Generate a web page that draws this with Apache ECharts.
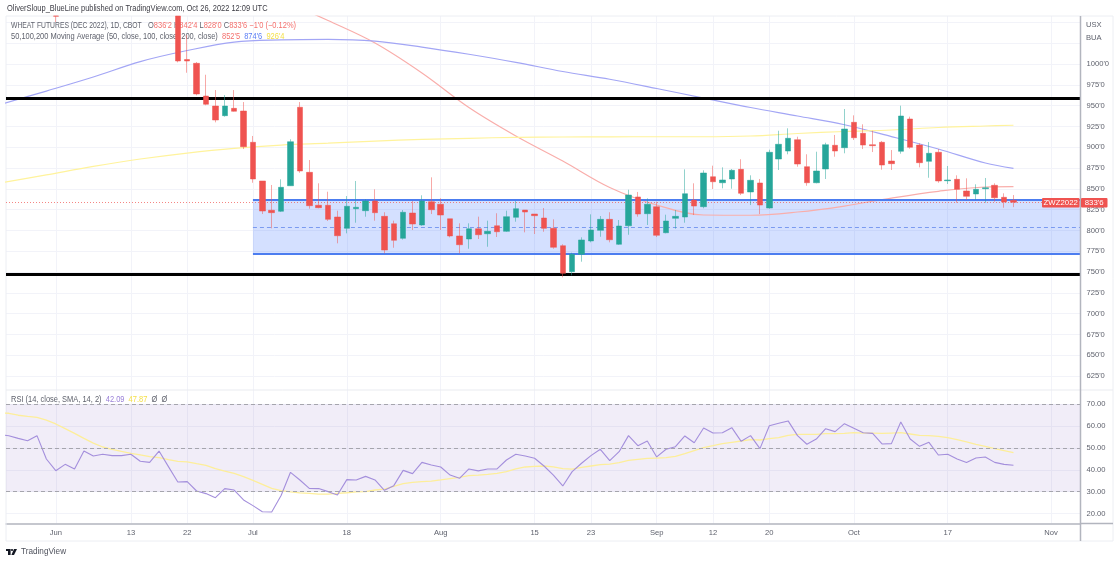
<!DOCTYPE html>
<html>
<head>
<meta charset="utf-8">
<title>Wheat futures</title>
<script src="https://cdn.jsdelivr.net/npm/echarts@6/dist/echarts.min.js"></script>
<style>
html, body { margin: 0; padding: 0; background: #fff; }
#chart { width: 1120px; height: 563px; }
</style>
</head>
<body>
<div id="chart"></div>
<script>
// trading sessions, the last few are the empty space on the right of the chart
const sessions = [
  '05-23','05-24','05-25','05-26','05-27','05-31',
  '06-01','06-02','06-03','06-06','06-07','06-08','06-09','06-10','06-13','06-14','06-15','06-16','06-17',
  '06-21','06-22','06-23','06-24','06-27','06-28','06-29','06-30',
  '07-01','07-05','07-06','07-07','07-08','07-11','07-12','07-13','07-14','07-15','07-18','07-19','07-20','07-21','07-22','07-25','07-26','07-27','07-28','07-29',
  '08-01','08-02','08-03','08-04','08-05','08-08','08-09','08-10','08-11','08-12','08-15','08-16','08-17','08-18','08-19','08-22','08-23','08-24','08-25','08-26','08-29','08-30','08-31',
  '09-01','09-02','09-06','09-07','09-08','09-09','09-12','09-13','09-14','09-15','09-16','09-19','09-20','09-21','09-22','09-23','09-26','09-27','09-28','09-29','09-30',
  '10-03','10-04','10-05','10-06','10-07','10-10','10-11','10-12','10-13','10-14','10-17','10-18','10-19','10-20','10-21','10-24','10-25','10-26','10-27','10-28','10-31',
  '11-01','11-02','11-03','11-04','11-07'
]

const xTickDates = ['06-01','06-13','06-22','07-01','07-18','08-01','08-15','08-23','09-01','09-12','09-20','10-03','10-17','11-01']
const xTickLabels = ['Jun','13','22','Jul','18','Aug','15','23','Sep','12','20','Oct','17','Nov']

const priceGridLines = [625,650,675,700,725,750,775,800,825,850,875,900,925,950,975,1000,1025,1050]
const priceLabels = [625,650,675,700,725,750,775,800,825,850,875,900,925,950,975,1000]
const rsiLabels = [20,30,40,50,60,70]

// candles from 06-21 to 10-26, the first one runs past the top of the pane so it stops at the pane's top value
const candleStart = '06-21'
const opens = [1057.7,1005.4,1000.8,961.5,949.5,937.9,946.7,943.5,905.9,859.4,824.2,823,853.7,948,869.8,830.2,830.2,816.1,802.5,826.1,823.7,835.3,816.9,808,790.5,820.9,806.5,834.5,831.4,814,793.3,789.7,802,796,805.6,798.9,815.7,824.5,819.7,814.9,802.5,781.6,750.4,771.3,787.3,800.1,813.3,783.3,805.6,840.2,820.1,828.5,797.2,814.5,816.1,836.5,828.5,864.5,857.3,861.8,873.4,846.2,857,826.9,885.8,895.4,909,876.6,857.3,873.8,902.3,899.4,929.9,916.7,903,905.9,883.4,895.1,933.9,902.6,883,893.9,859.7,861.4,847.4,843.8,850.1,854.2,839.8,836.25]
const closes = [1003.6,1003.6,964,951.6,932.7,949.5,943.2,900.6,861.8,823.3,821.3,851.8,906.6,871.4,829.7,827.3,813.3,793.6,829,827.8,835.3,821.3,776.4,788.1,821.8,807.7,835.3,824.9,818.5,793.3,782.8,802,794.8,798.9,798.4,816.5,826.1,822.1,817.7,802.5,779.7,748.4,771.3,788.5,800.5,813.3,788.8,805.3,842.5,819.7,831.4,794.1,811.3,816.9,844.1,829.3,869,858.5,860.6,872.2,844.6,860.2,830.5,893.9,903.5,910.7,879.8,857.3,871.4,903,895.4,921.9,911.4,902.6,901.8,878.6,880.2,937.5,899.9,881.4,892.7,859.4,860.6,849.4,841,849.4,851.3,839.3,834.1,833.75]
const lows = [1002,989.5,962.4,950.4,929.9,936.7,942.7,897.8,857.3,819.7,802.5,822.1,853.4,869.3,826.1,826.6,811.3,784.5,796.5,809.3,816.5,811.7,772.5,779.2,789,800.5,805.6,819.7,800.5,791.7,772.5,778,789.7,780.4,792.1,798.1,810.5,797.7,795.7,798.4,778,743.6,746,762.4,785.7,792.4,785.7,782.5,794.8,816.5,806.5,792.1,796.5,802,809.3,818.5,826.6,849.8,850.6,850.1,842.5,830.5,819.7,826.1,872.6,891.5,876.6,853.7,856.6,861.8,888.6,892.7,908.7,897.8,894.2,873,872.6,892.2,898.2,875.8,863.3,857.3,855.8,833.3,836.5,836.5,833.3,834.5,827.3,828]
const highs = [1057.7,1034.8,1002.4,987.1,968.7,962.7,968.7,954.3,913.5,859.4,854.6,861.4,909.5,954.3,884.6,856.6,846.5,823.7,841.3,859.4,837.7,849.4,821.8,811.7,824.5,835.3,842.2,863.8,838.6,814,808.5,808.5,816.5,811.7,820.6,823.7,835.3,824.5,819.7,826.9,813.3,783.3,773.2,791.7,819.3,817.3,821.8,812.5,848.9,846.2,838.6,834.5,818.9,824.5,873.4,856.6,872.2,877.8,875.8,873.8,885.5,866.2,861.8,897,919.8,922.7,912.6,891.5,894.6,905.4,914.7,945.9,938.3,927.5,919.8,907.5,896.6,949.9,936.7,904.7,906.2,897.8,877.4,866.2,862.6,855.4,863,856.6,844.6,842.5]

// the only earlier candle that shows: just its lower wick hangs in from the top
const offTopDate = '06-01'
const offTopCandle = [1057.7,1057.5,1050.5,1057.7]

// moving averages, read every few sessions
const maDates = ['05-23','05-31','06-07','06-14','06-22','06-29','07-07','07-14','07-21','07-28','08-04','08-11','08-18','08-25','09-01','09-09','09-16','09-23','09-30','10-07','10-14','10-21','10-26']
const ma100 = [951.1,967.5,984.4,1002.9,1016.2,1026.4,1029.1,1029.7,1027.6,1020.4,1011.7,1002,991,981.7,970.6,959.1,947.7,937.5,927,912.8,897.8,881,874.6]
const ma200 = [856.9,866.8,876.9,885.8,893,898.7,902.6,904.8,907.4,909.3,910.7,911.9,912.3,912.5,912.6,912.6,913.5,916.5,918.9,920.7,923.7,925.5,926.4]
const ma50Dates = ['07-07','07-14','07-21','07-28','08-04','08-11','08-18','08-25','09-01','09-09','09-16','09-23','09-30','10-07','10-14','10-21','10-26']
const ma50 = [1077.5,1052.2,1025.2,989.2,947.7,913.5,883.4,851.6,830.5,818.5,818.2,822.1,829.3,838.9,847,852.2,852.6]

// rsi values start at the first session
const rsi = [56.25,55.6,54.4,53.35,55.65,44.95,39.6,42.5,40.4,48.6,46.3,47.1,46.5,46.5,47.1,43.9,43.4,48.6,41.45,34.4,34.6,30.3,29.1,27.25,31.4,30.75,26.2,23.6,20.8,20.7,28.2,38.85,35.35,31.5,31.4,30,28.45,35.5,35.35,37,35.35,30.6,32.75,39.75,38.25,43.4,42.2,41.3,37.6,36.1,40.4,39.5,40.4,40.4,44.5,47.1,46.3,45.3,41.75,37.6,32.6,39.15,43,46.5,49.4,44.2,48.3,55.65,51.05,53.2,45.9,49.4,50.6,55.5,52.4,59.15,56.85,57,59.3,53.05,55.65,49.7,60.2,61.3,62.4,55.65,51.7,54.1,58.85,57.5,61.15,59,57,56.7,51.85,52,61.9,54.1,50.75,52.6,46.8,47.1,45,43.4,45.4,45.9,43.4,42.5,42.09]
const rsiMa = [66,65.9,65,64.5,64.05,62.8,61,58.85,56.7,54.4,52.25,50.45,49.4,48.45,47.55,46.8,46,45.6,44.65,43.9,43.6,42.8,42.05,40.5,39.45,38.4,36.9,35.2,33.35,31.5,30.45,29.85,29.4,29.25,28.9,28.9,29.25,29.5,29.85,30,30.75,31.2,32.45,33.65,34.25,34.6,34.85,35.35,35.95,36.55,37.3,37.6,37.95,38.4,39.15,40.4,41.3,41.6,41.75,41.3,40.5,40.35,41.15,41.75,42.35,42.65,43.25,44.35,44.8,45.25,45.4,45.55,46.15,47.4,48.8,50.15,51.05,52,52.6,53.2,53.8,53.65,54.25,54.7,55.8,56.25,56.25,56.25,56.55,56.55,56.7,57,56.85,56.85,56.7,56.85,57,56.4,55.8,55.65,55.35,54.7,53.8,52.75,51.65,50.75,49.7,48.8,47.87]

// drawn levels
const upperSupport = 958.8
const lowerSupport = 747.2
const zoneStart = '07-01'
const zoneTop = 836.7
const zoneMiddle = 804
const zoneBottom = 771.6
const lastClose = 833.75
const rsiBands = [70,50,30]

const red = '#ef5350'
const green = '#26a69a'
const gridColor = '#f2f3f9'
const textFont = '"Liberation Sans", sans-serif'
const legendFont = '8.6px ' + textFont
const axisFontSize = 7.6
const axisGrey = '#5f626d'

const xMin = 0.7
const xMax = 115.14

function idx(date) {
  return sessions.indexOf(date)
}

function createCandles() {
  let first = idx(candleStart)
  let data = [[idx(offTopDate), ...offTopCandle]]
  for (let i = 0; i < opens.length; i++) {
    data.push([first + i, opens[i], closes[i], lows[i], highs[i]])
  }
  return data
}

function xAxisFor(gridIndex, withLabels) {
  let ticks = xTickDates.map(idx)
  return {
    type: 'value',
    gridIndex: gridIndex,
    min: xMin,
    max: xMax,
    axisLine: { show: withLabels, onZero: false, lineStyle: { color: '#b2b5be', width: 1.5 } },
    axisTick: { show: false, customValues: ticks },
    splitLine: { show: true, lineStyle: { color: gridColor, width: 1 } },
    axisLabel: {
      show: withLabels,
      customValues: ticks,
      margin: 5,
      hideOverlap: false,
      showMinLabel: true,
      showMaxLabel: true,
      fontFamily: textFont,
      fontSize: axisFontSize,
      color: axisGrey,
      formatter: v => xTickLabels[ticks.indexOf(v)]
    }
  }
}

// horizontal level across the pane, from xFrom to the right edge
function level(v, xFrom, lineStyle) {
  return [
    { coord: [xFrom, v], lineStyle: lineStyle },
    { coord: [xMax, v], lineStyle: lineStyle }
  ]
}

// the original font is narrower than anything installed, so the text is squeezed a little
function legendText(x, y, text, rich, z, squeeze = 0.87) {
  let styles = {}
  for (let key in rich) {
    styles[key] = { fill: rich[key], font: legendFont }
  }
  return {
    type: 'text', silent: true, z: z, x: x, y: y, scaleX: squeeze,
    style: { x: 0, y: 0, verticalAlign: 'middle', text: text, font: legendFont, rich: styles }
  }
}

const chart = echarts.init(document.getElementById('chart'))

const blackLine = { color: '#000', width: 3, type: 'solid' }
const zoneLine = { color: '#4c7df0', width: 2, type: 'solid' }
const zoneMidLine = { color: '#7b9bf0', width: 1, type: [4, 3] }
const priceLine = { color: 'rgba(239,83,80,0.7)', width: 1, type: [1, 2] }
const bandLine = { color: '#a5a5ad', width: 1, type: [4, 3] }

const option = {
  animation: false,
  backgroundColor: '#fff',
  grid: [
    { left: 6, top: 16, width: 1074.5, height: 374, show: false },
    { left: 6, top: 390, width: 1074.5, height: 133.5, show: false }
  ],
  xAxis: [xAxisFor(0, false), xAxisFor(1, true)],
  yAxis: [
    {
      type: 'value',
      gridIndex: 0,
      position: 'right',
      min: 608.2,
      max: 1057.7,
      axisLine: { show: false },
      axisTick: { show: false, customValues: priceGridLines },
      splitLine: { show: true, lineStyle: { color: gridColor } },
      axisLabel: {
        customValues: priceLabels,
        margin: 6,
        fontFamily: textFont,
        fontSize: axisFontSize,
        color: axisGrey,
        formatter: v => v + "'0"
      }
    },
    {
      type: 'value',
      gridIndex: 1,
      position: 'right',
      min: 15.41,
      max: 76.56,
      axisLine: { show: false },
      axisTick: { show: false, customValues: rsiLabels },
      splitLine: { show: true, lineStyle: { color: gridColor } },
      axisLabel: {
        customValues: rsiLabels,
        margin: 6,
        fontFamily: textFont,
        fontSize: axisFontSize,
        color: axisGrey,
        formatter: v => v.toFixed(2)
      }
    }
  ],
  series: [
    {
      type: 'line',
      name: 'levels',
      xAxisIndex: 0,
      yAxisIndex: 0,
      z: 2,
      data: [],
      silent: true,
      markArea: {
        silent: true,
        itemStyle: { color: 'rgba(41,98,255,0.2)' },
        data: [[{ coord: [idx(zoneStart), zoneTop] }, { coord: [xMax, zoneBottom] }]]
      },
      markLine: {
        silent: true,
        symbol: 'none',
        label: { show: false },
        data: [
          level(upperSupport, xMin, blackLine),
          level(lowerSupport, xMin, blackLine),
          level(zoneTop, idx(zoneStart), zoneLine),
          level(zoneBottom, idx(zoneStart), zoneLine),
          level(zoneMiddle, idx(zoneStart), zoneMidLine),
          level(lastClose, xMin, priceLine)
        ]
      }
    },
    {
      type: 'line',
      name: 'MA 50',
      xAxisIndex: 0,
      yAxisIndex: 0,
      z: 3,
      symbol: 'none',
      smooth: 0.35,
      lineStyle: { color: '#f9aeab', width: 1.2 },
      data: ma50.map((v, i) => [idx(ma50Dates[i]), v])
    },
    {
      type: 'line',
      name: 'MA 100',
      xAxisIndex: 0,
      yAxisIndex: 0,
      z: 3,
      symbol: 'none',
      smooth: 0.35,
      lineStyle: { color: '#a3a6f5', width: 1.2 },
      data: ma100.map((v, i) => [idx(maDates[i]), v])
    },
    {
      type: 'line',
      name: 'MA 200',
      xAxisIndex: 0,
      yAxisIndex: 0,
      z: 3,
      symbol: 'none',
      smooth: 0.35,
      lineStyle: { color: '#fff39c', width: 1.2 },
      data: ma200.map((v, i) => [idx(maDates[i]), v])
    },
    {
      type: 'candlestick',
      name: 'ZWZ2022',
      xAxisIndex: 0,
      yAxisIndex: 0,
      z: 5,
      barWidth: 6,
      clip: true,
      itemStyle: {
        color: green,
        color0: red,
        borderColor: 'rgba(38,166,154,0.5)',
        borderColor0: 'rgba(239,83,80,0.5)',
        borderWidth: 1
      },
      data: createCandles()
    },
    {
      type: 'line',
      name: 'RSI bands',
      xAxisIndex: 1,
      yAxisIndex: 1,
      z: 2,
      data: [],
      silent: true,
      markArea: {
        silent: true,
        itemStyle: { color: 'rgba(126,87,194,0.11)' },
        data: [[{ coord: [xMin, rsiBands[0]] }, { coord: [xMax, rsiBands[2]] }]]
      },
      markLine: {
        silent: true,
        symbol: 'none',
        label: { show: false },
        data: rsiBands.map(v => level(v, xMin, bandLine))
      }
    },
    {
      type: 'line',
      name: 'RSI MA',
      xAxisIndex: 1,
      yAxisIndex: 1,
      z: 3,
      symbol: 'none',
      lineStyle: { color: '#fdee9a', width: 1.3 },
      data: rsiMa.map((v, i) => [i, v])
    },
    {
      type: 'line',
      name: 'RSI',
      xAxisIndex: 1,
      yAxisIndex: 1,
      z: 4,
      symbol: 'none',
      lineStyle: { color: '#a48fdc', width: 1.1 },
      data: rsi.map((v, i) => [i, v])
    }
  ],
  graphic: [
    // frame
    { type: 'rect', silent: true, z: 1, shape: { x: 6, y: 16, width: 1107, height: 525 }, style: { fill: 'none', stroke: '#eceef3', lineWidth: 1 } },
    { type: 'line', silent: true, z: 6, shape: { x1: 1080.5, y1: 16, x2: 1080.5, y2: 541 }, style: { stroke: '#b2b5be', lineWidth: 1.5 } },
    { type: 'line', silent: true, z: 1, shape: { x1: 6, y1: 390, x2: 1113, y2: 390 }, style: { stroke: '#e9ebf0', lineWidth: 1 } },
    { type: 'line', silent: true, z: 6, shape: { x1: 1080, y1: 523.5, x2: 1113, y2: 523.5 }, style: { stroke: '#b2b5be', lineWidth: 1.5 } },

    // header and legends
    legendText(7, 9, '{k|OliverSloup_BlueLine published on TradingView.com, Oct 26, 2022 12:09 UTC}', { k: '#3c3c44' }, 1),
    legendText(11, 26, '{g|WHEAT FUTURES (DEC 2022), 1D, CBOT}', { g: axisGrey }, 1, 0.79),
    legendText(148, 26, "{g|O}{r|836'2} {g|H}{r|842'4} {g|L}{r|828'0} {g|C}{r|833'6} {r|−1'0 (−0.12%)}", { g: axisGrey, r: '#f4706d' }, 1),
    legendText(11, 37, "{g|50,100,200 Moving Average (50, close, 100, close, 200, close)}  {r|852'5}  {b|874'6}  {y|926'4}", { g: axisGrey, r: '#f4706d', b: '#5a7df5', y: '#f5e04a' }, 1),
    legendText(11, 400, '{g|RSI (14, close, SMA, 14, 2)}  {p|42.09}  {y|47.87}  {g|Ø  Ø}', { g: axisGrey, p: '#9a80d8', y: '#f5e04a' }, 6),

    // currency and unit on the price scale
    { type: 'text', silent: true, z: 6, style: { x: 1086, y: 25, text: 'USX', font: axisFontSize + 'px ' + textFont, fill: axisGrey, verticalAlign: 'middle' } },
    { type: 'text', silent: true, z: 6, style: { x: 1086, y: 38, text: 'BUA', font: axisFontSize + 'px ' + textFont, fill: axisGrey, verticalAlign: 'middle' } },

    // symbol and last price tags
    { type: 'rect', silent: true, z: 7, shape: { x: 1042, y: 198, width: 37.5, height: 9.5, r: 1 }, style: { fill: red } },
    { type: 'text', silent: true, z: 8, style: { x: 1060.7, y: 203, text: 'ZWZ2022', font: '7.8px ' + textFont, fill: '#fff', align: 'center', verticalAlign: 'middle' } },
    { type: 'rect', silent: true, z: 7, shape: { x: 1081, y: 198, width: 26.5, height: 9.5, r: 1 }, style: { fill: red } },
    { type: 'text', silent: true, z: 8, style: { x: 1094.2, y: 203, text: "833'6", font: '7.8px ' + textFont, fill: '#fff', align: 'center', verticalAlign: 'middle' } },

    // footer logo
    { type: 'polygon', silent: true, shape: { points: [[6, 549], [10.6, 549], [10.6, 555], [8, 555], [8, 551], [6, 551]] }, style: { fill: '#131722' } },
    { type: 'circle', silent: true, shape: { cx: 12, cy: 550, r: 1.1 }, style: { fill: '#131722' } },
    { type: 'polygon', silent: true, shape: { points: [[14, 549], [17, 549], [14, 555], [11.4, 555]] }, style: { fill: '#131722' } },
    { type: 'text', silent: true, style: { x: 21, y: 552, text: 'TradingView', font: '8.2px ' + textFont, fill: '#50535e', verticalAlign: 'middle' } }
  ]
}

chart.setOption(option)
</script>
</body>
</html>
